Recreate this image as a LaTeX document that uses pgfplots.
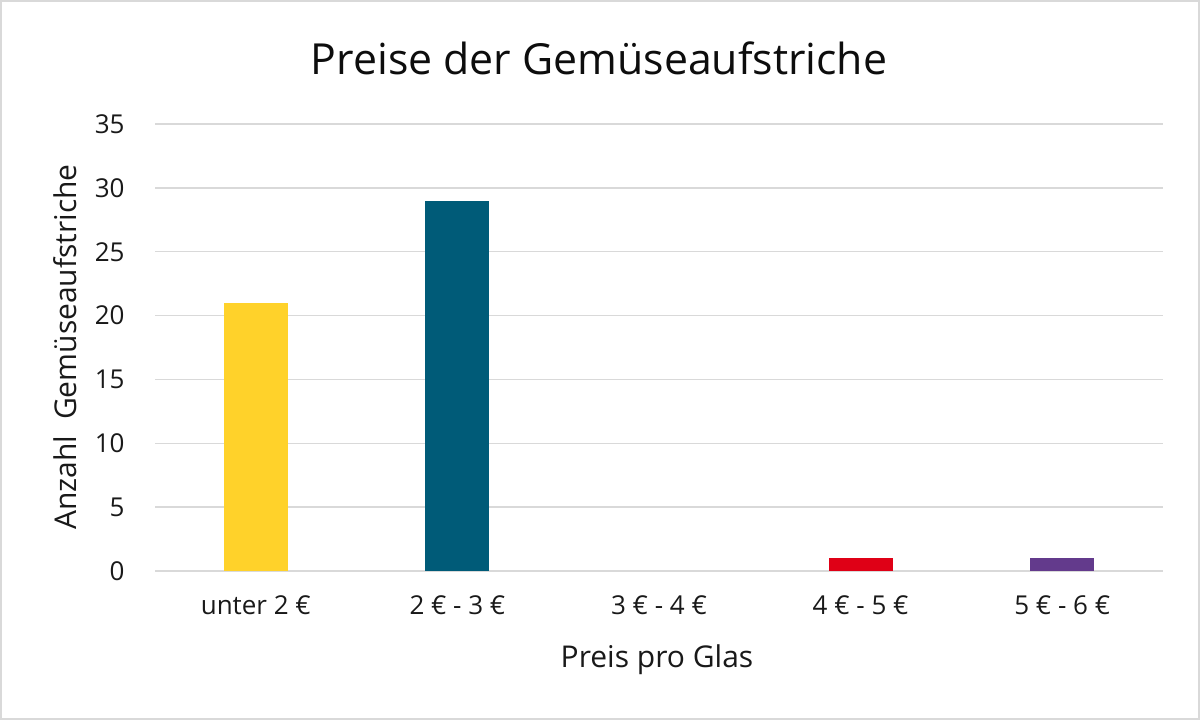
\documentclass[border=0pt]{standalone}
\usepackage{fontspec}
\setmainfont{Open Sans}
\usepackage{pgfplots}
\pgfplotsset{compat=1.18}
\definecolor{cyellow}{RGB}{255,210,42}
\definecolor{cteal}{RGB}{0,91,120}
\definecolor{cred}{RGB}{223,0,22}
\definecolor{cpurple}{RGB}{99,58,140}
\definecolor{cgrid}{RGB}{217,217,217}
\begin{document}
\begin{tikzpicture}[x=1bp,y=1bp]
\draw[draw=cgrid, line width=1bp] (0.5,0.5) rectangle (599.5,359.5);
\begin{axis}[
  at={(77.5bp,74.5bp)}, anchor=south west,
  scale only axis, width=504bp, height=223.5bp,
  xmin=-0.5, xmax=4.5, ymin=0, ymax=35,
  ytick={0,5,...,35},
  xtick={0,1,2,3,4},
  xticklabels={unter 2 €, 2 € - 3 €, 3 € - 4 €, 4 € - 5 €, 5 € - 6 €},
  ymajorgrids, grid style={draw=cgrid, line width=0.75bp},
  axis x line*=bottom, axis y line*=left,
  y axis line style={draw=none},
  x axis line style={draw=cgrid, line width=0.75bp, -},
  tick style={draw=none}, major tick length=0pt,
  tick label style={font=\fontsize{13bp}{15bp}\selectfont, text=black!90},
  yticklabel style={anchor=east, inner sep=0pt, xshift=-15bp},
  xticklabel style={anchor=north, inner sep=0pt, yshift=-12bp},
  /pgf/number format/assume math mode=true,
  ybar, bar width=32bp, bar shift=0pt,
]
\addplot[fill=cyellow, draw=none] coordinates {(0,21)};
\addplot[fill=cteal, draw=none] coordinates {(1,29)};
\addplot[fill=cred, draw=none] coordinates {(3,1)};
\addplot[fill=cpurple, draw=none] coordinates {(4,1)};
\end{axis}
\node[font=\fontsize{21.4bp}{25bp}\selectfont, text=black!95] at (299.5,331) {Preise der Gemüseaufstriche};
\node[font=\fontsize{15bp}{17bp}\selectfont, text=black!90] at (328.5,30) {Preis pro Glas};
\node[font=\fontsize{15bp}{17bp}\selectfont, text=black!90, rotate=90] at (32.5,186.5) {Anzahl\ \ Gemüseaufstriche};
\end{tikzpicture}
\end{document}
